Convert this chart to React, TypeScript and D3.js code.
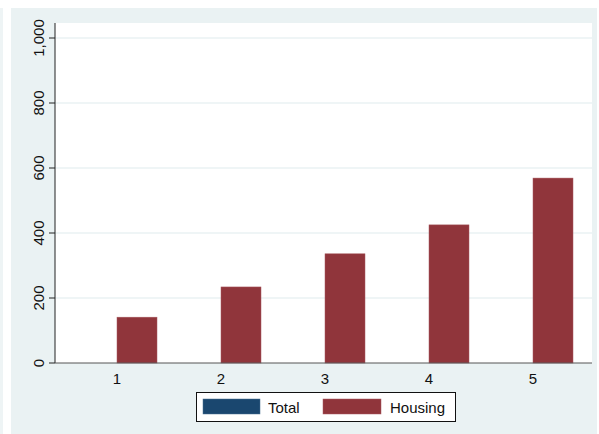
import React from "react";
import * as d3 from "d3";

const categories = ["1", "2", "3", "4", "5"];
const totalValues = [0, 0, 0, 0, 0];
const housingValues = [141, 234, 336, 425, 569];
const yTicks = [0, 200, 400, 600, 800, 1000];
const seriesNames = ["Total", "Housing"];
const seriesColors = ["#1a476f", "#90353b"];

export default function App() {
  const W = 599, H = 434;
  const plotL = 55, plotR = 592, plotT = 23, plotB = 363;
  const y = d3.scaleLinear().domain([0, 1000]).range([363, 38]);
  const x = d3.scalePoint<string>().domain(categories).range([117, 533]);
  const barW = 40;
  const fmt = d3.format(",");
  const font = "'Liberation Sans', Arial, Helvetica, sans-serif";
  return (
    <svg width={W} height={H} style={{ position: "absolute", left: 0, top: 0 }} fontFamily={font}>
      <rect x={0} y={0} width={W} height={H} fill="#ffffff" />
      <rect x={0} y={8} width={3} height={H - 8} fill="#eef4f5" />
      <rect x={11} y={8} width={586} height={H - 8} fill="#eaf2f3" />
      <rect x={plotL} y={plotT} width={plotR - plotL} height={plotB - plotT} fill="#ffffff" />
      {yTicks.filter((t) => t > 0).map((t) => (
        <line key={"g" + t} x1={plotL} x2={plotR} y1={y(t)} y2={y(t)} stroke="#eaf2f3" strokeWidth={1.5} />
      ))}
      {categories.map((c, i) => (
        <g key={"b" + c}>
          <rect x={(x(c) as number) - barW} y={y(totalValues[i])} width={barW} height={y(0) - y(totalValues[i])} fill={seriesColors[0]} />
          <rect x={x(c) as number} y={y(housingValues[i])} width={barW} height={y(0) - y(housingValues[i])} fill={seriesColors[1]} stroke="#a85a60" strokeWidth={0.5} />
        </g>
      ))}
      <line x1={plotL} x2={plotL} y1={plotT} y2={plotB} stroke="#222" strokeWidth={1} />
      <line x1={plotL} x2={plotR} y1={plotB} y2={plotB} stroke="#555" strokeWidth={1} />
      {yTicks.map((t) => (
        <g key={"t" + t}>
          <line x1={plotL - 6} x2={plotL} y1={y(t)} y2={y(t)} stroke="#222" strokeWidth={1} />
          <text
            transform={`translate(44,${y(t)}) rotate(-90)`}
            textAnchor="middle"
            fontSize={15}
            fill="#111"
          >
            {fmt(t)}
          </text>
        </g>
      ))}
      {categories.map((c) => (
        <g key={"x" + c}>
          <text x={x(c) as number} y={384} textAnchor="middle" fontSize={15} fill="#111">{c}</text>
        </g>
      ))}
      <rect x={196.5} y={392.5} width={259} height={29} fill="#ffffff" stroke="#111" strokeWidth={1} />
      <rect x={203} y={399} width={57} height={15} fill={seriesColors[0]} stroke="#4a6f90" strokeWidth={0.5} />
      <text x={268} y={413} fontSize={15} fill="#111">{seriesNames[0]}</text>
      <rect x={323} y={399} width={58} height={15} fill={seriesColors[1]} stroke="#a85a60" strokeWidth={0.5} />
      <text x={390} y={413} fontSize={15} fill="#111">{seriesNames[1]}</text>
    </svg>
  );
}
